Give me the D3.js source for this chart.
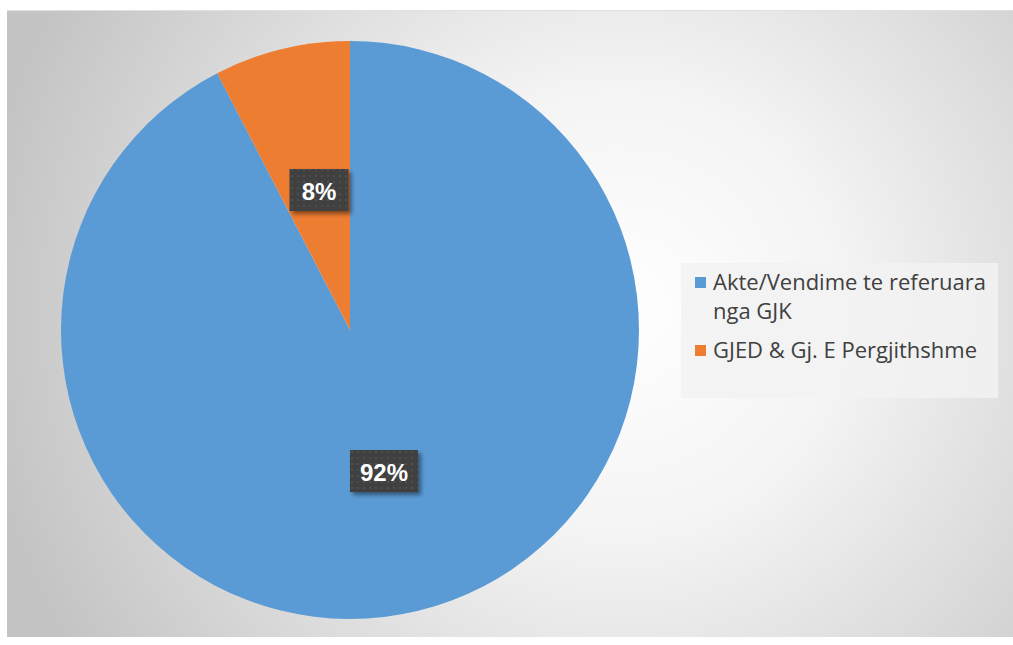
<!DOCTYPE html>
<html><head><meta charset="utf-8">
<script src="https://cdn.jsdelivr.net/npm/d3@7"></script>
<style>html,body{margin:0;padding:0;background:#fff;}svg{display:block;}</style>
</head><body>
<svg id="chart" width="1013" height="645"></svg>
<script>
const categories = ["Akte/Vendime te referuara nga GJK", "GJED & Gj. E Pergjithshme"];
const legendLines = [["Akte/Vendime te referuara", "nga GJK"], ["GJED & Gj. E Pergjithshme"]];
const values = [92.4, 7.6];
const labels = ["92%", "8%"];
const colors = ["#5B9BD5", "#ED7D31"];

const svg = d3.select("#chart");
const defs = svg.append("defs");
const grad = defs.append("radialGradient").attr("id", "bg")
  .attr("gradientUnits", "userSpaceOnUse")
  .attr("cx", 620).attr("cy", 310).attr("r", 640);
grad.append("stop").attr("offset", "0").attr("stop-color", "#ffffff");
grad.append("stop").attr("offset", "0.35").attr("stop-color", "#f4f4f4");
grad.append("stop").attr("offset", "1").attr("stop-color", "#c4c4c4");

const pat = defs.append("pattern").attr("id", "dots").attr("patternUnits", "userSpaceOnUse")
  .attr("width", 6).attr("height", 6);
pat.append("rect").attr("width", 6).attr("height", 6).attr("fill", "#404040");
pat.append("rect").attr("x", 1).attr("y", 1).attr("width", 2).attr("height", 2).attr("fill", "#4f4f4f");

const shadow = defs.append("filter").attr("id", "shadow").attr("x", "-20%").attr("y", "-20%").attr("width", "150%").attr("height", "160%");
shadow.append("feDropShadow").attr("dx", 3).attr("dy", 3).attr("stdDeviation", 2).attr("flood-color", "#000").attr("flood-opacity", 0.45);

svg.append("rect").attr("x", 7).attr("y", 10).attr("width", 1006).attr("height", 627).attr("fill", "url(#bg)");
svg.append("line").attr("x1", 7).attr("x2", 1013).attr("y1", 10.5).attr("y2", 10.5).attr("stroke", "#e0e0e0");

const cx = 350, cy = 330, R = 289;
const pie = d3.pie().sort(null).value(d => d)(values);
const arc = d3.arc().innerRadius(0).outerRadius(R);
const g = svg.append("g").attr("transform", `translate(${cx},${cy})`);
g.selectAll("path").data(pie).join("path").attr("d", arc).attr("fill", (d, i) => colors[i]);

// data labels
const labelPos = [[34, 141], [-31, -140]];
const boxW = [68, 59];
pie.forEach((d, i) => {
  const [lx, ly] = labelPos[i];
  g.append("rect")
    .attr("x", lx - boxW[i] / 2).attr("y", ly - 21).attr("width", boxW[i]).attr("height", 42)
    .attr("fill", "url(#dots)").attr("filter", "url(#shadow)");
  g.append("text").text(labels[i]).attr("x", lx).attr("y", ly + 1)
    .attr("text-anchor", "middle").attr("dominant-baseline", "central")
    .attr("font-family", "Liberation Sans, Arial, sans-serif").attr("font-weight", "bold")
    .attr("font-size", 24).attr("fill", "#fff");
});

// legend
const lg = svg.append("g");
lg.append("rect").attr("x", 681).attr("y", 263).attr("width", 317).attr("height", 135)
  .attr("fill", "#f2f2f2").attr("fill-opacity", 0.85);
const lineY = [[290, 319], [358]];
const fam = "Open Sans, Noto Sans, sans-serif";
// fit font size so the first line spans ~273px like the reference
const probe = lg.append("text").text(legendLines[0][0]).attr("font-family", fam).attr("font-size", 18);
const w18 = probe.node().getComputedTextLength();
probe.remove();
const fs = 18 * 273 / w18;
categories.forEach((c, i) => {
  lg.append("rect").attr("x", 695).attr("y", lineY[i][0] - 13).attr("width", 11).attr("height", 11).attr("fill", colors[i]);
  legendLines[i].forEach((ln, j) => {
    lg.append("text").text(ln).attr("x", 713).attr("y", lineY[i][j])
      .attr("font-family", fam).attr("font-size", fs).attr("fill", "#404040");
  });
});
</script>
</body></html>
